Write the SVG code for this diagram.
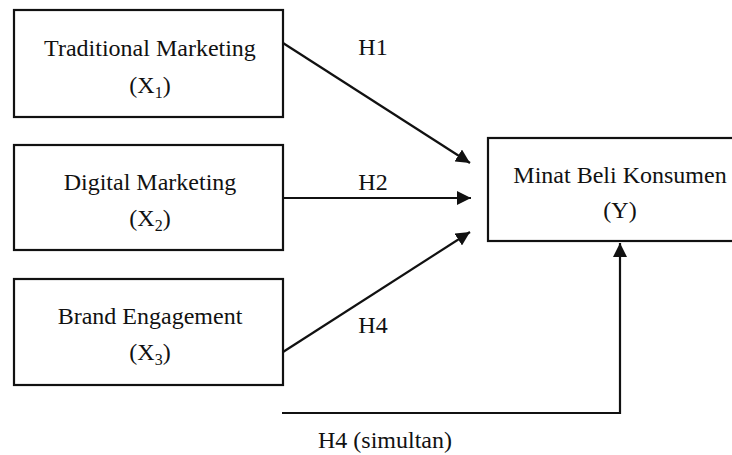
<svg xmlns="http://www.w3.org/2000/svg" width="732" height="455" viewBox="0 0 732 455">
<style>
.box{fill:#fff;stroke:#111;stroke-width:2.2}
.t{font-family:"Liberation Serif","Times New Roman",serif;font-size:24px;fill:#111;text-anchor:middle}
.sub{font-size:16px}
.c{fill:none;stroke:#111;stroke-width:2.2}
</style>
<defs>
<marker id="ah" markerWidth="14" markerHeight="14" refX="14" refY="7" orient="auto" markerUnits="userSpaceOnUse">
<path d="M0,0 L14,7 L0,14 Z" fill="#111"/>
</marker>
</defs>
<rect width="732" height="455" fill="#fff"/>
<g id="x1">
<rect class="box" x="14" y="10" width="269" height="107"/>
<text class="t" x="150" y="56">Traditional Marketing</text>
<text class="t" x="150" y="93">(X<tspan class="sub" dy="5">1</tspan><tspan dy="-5">)</tspan></text>
</g>
<g id="x2">
<rect class="box" x="14" y="145" width="269" height="105"/>
<text class="t" x="150" y="190">Digital Marketing</text>
<text class="t" x="150" y="226">(X<tspan class="sub" dy="5">2</tspan><tspan dy="-5">)</tspan></text>
</g>
<g id="x3">
<rect class="box" x="14" y="279" width="269" height="106"/>
<text class="t" x="150" y="324">Brand Engagement</text>
<text class="t" x="150" y="360">(X<tspan class="sub" dy="5">3</tspan><tspan dy="-5">)</tspan></text>
</g>
<g id="y">
<rect class="box" x="488" y="138" width="265" height="103"/>
<text class="t" x="620" y="183">Minat Beli Konsumen</text>
<text class="t" x="620" y="218">(Y)</text>
</g>
<g id="connectors">
<line class="c" x1="283" y1="43" x2="470" y2="163" marker-end="url(#ah)"/>
<line class="c" x1="283" y1="198" x2="471" y2="198" marker-end="url(#ah)"/>
<line class="c" x1="283" y1="352" x2="470" y2="232" marker-end="url(#ah)"/>
<polyline class="c" points="282,413 620,413 620,243" marker-end="url(#ah)"/>
</g>
<g id="labels">
<text class="t" x="373" y="55">H1</text>
<text class="t" x="373" y="190">H2</text>
<text class="t" x="373" y="333">H4</text>
<text class="t" x="385" y="448">H4 (simultan)</text>
</g>
</svg>
